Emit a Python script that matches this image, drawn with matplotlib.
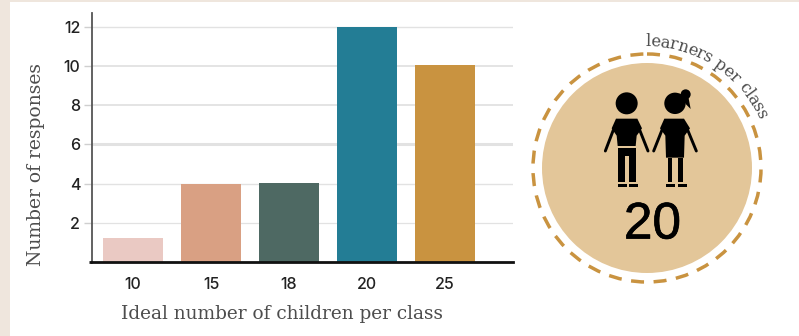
import numpy as np
import matplotlib
matplotlib.use("Agg")
import matplotlib.pyplot as plt
import matplotlib.patheffects as pe
from matplotlib.patches import Circle, Polygon, Rectangle
from matplotlib.textpath import TextPath
from matplotlib.font_manager import FontProperties

categories = ["10", "15", "18", "20", "25"]
responses = [1.2, 4, 4.05, 12, 10.05]
bar_colors = ["#eac9c3", "#d9a083", "#4e6963", "#237d95", "#c99340"]
y_ticks = [2, 4, 6, 8, 10, 12]
grid_widths = [0.9, 1.0, 2.2, 1.3, 1.3, 1.0]
ring_label = "learners per class"
ring_value = "20"

W, H = 799, 336
BEIGE = "#efe6dd"
SLAB = "DejaVu Serif"
TICKFONT = "Inter"
INK = "#4d4d4d"

fig = plt.figure(figsize=(W / 100, H / 100), dpi=100, facecolor="white")

# beige strips along left and top
fig.add_artist(Rectangle((0, 0), 10 / W, 1, transform=fig.transFigure, color=BEIGE, lw=0))
fig.add_artist(Rectangle((0, 1 - 2 / H), 1, 2 / H, transform=fig.transFigure, color=BEIGE, lw=0))

# bar chart
ax = fig.add_axes([92 / W, (H - 262) / H, (513 - 92) / W, (262 - 13) / H])
ax.patch.set_alpha(0)
x = np.arange(len(categories))
for yv, lw in zip(y_ticks, grid_widths):
    ax.axhline(yv, color="#e2e2e2", lw=lw, zorder=1)
ax.bar(x, responses, width=0.77, color=bar_colors, zorder=2)
ax.set_xlim(-0.526, 4.87)
ax.set_ylim(0, 12.7)
ax.set_xticks(x, categories)
ax.set_yticks(y_ticks)
ax.tick_params(axis="x", length=0, pad=11, labelsize=11.5, labelcolor="#222222")
ax.tick_params(axis="y", length=5.5, width=1, color="#cfcfcf", pad=3, labelsize=11.5, labelcolor="#222222")
for lab in ax.get_xticklabels() + ax.get_yticklabels():
    lab.set_fontfamily(TICKFONT)
    lab.set_fontweight("medium")
for s in ["top", "right"]:
    ax.spines[s].set_visible(False)
ax.spines["left"].set_color("#555555")
ax.spines["left"].set_linewidth(1.3)
ax.spines["bottom"].set_color("#111111")
ax.spines["bottom"].set_linewidth(2)
ax.spines["bottom"].set_zorder(5)

# overlay in pixel coordinates for labels and the ring
ov = fig.add_axes([0, 0, 1, 1])
ov.set_xlim(0, W)
ov.set_ylim(H, 0)
ov.axis("off")
ov.patch.set_alpha(0)

ov.plot([89, 92], [262, 262], color="#111111", lw=2, solid_capstyle="butt")
ov.text(282, 314, "Ideal number of children per class", family=SLAB, fontsize=13.3,
        color=INK, ha="center", va="center")
ov.text(36, 164, "Number of responses", family=SLAB, fontsize=13.5, color=INK,
        rotation=90, ha="center", va="center")

# ring
cx, cy = 647, 168
ov.add_patch(Circle((cx, cy), 105, facecolor="#e3c699", edgecolor="none"))
ov.add_patch(Circle((cx, cy), 114, fill=False, edgecolor="#c99340", lw=2.5,
                    linestyle=(0, (3.75, 2.75))))
t = ov.text(cx + 5.5, 225, ring_value, family="Liberation Sans", fontsize=37, color="black",
            ha="center", va="center")
t.set_path_effects([pe.withStroke(linewidth=0.5, foreground="black")])

# curved label, one glyph at a time
fp = FontProperties(family=SLAB, size=11.8)
adv = [TextPath((0, 0), c if c != " " else "n", prop=fp).get_extents().width * 100 / 72 + 1.0
       for c in ring_label]
adv = [a * 0.62 if c == " " else a for a, c in zip(adv, ring_label)]
R = 126
theta = np.deg2rad(90.5)
for c, a in zip(ring_label, adv):
    mid = theta - a / 2 / R
    ov.text(cx + R * np.cos(mid), cy - R * np.sin(mid), c, family=SLAB, fontsize=11.8, color=INK,
            rotation=np.rad2deg(mid) - 90, rotation_mode="anchor", ha="center", va="center")
    theta -= a / R


def z(px, py):
    return 600 + px / 3, 85 + py / 3


def poly(points):
    ov.add_patch(Polygon([z(*p) for p in points], closed=True, facecolor="black", edgecolor="none"))


def limb(p, q, w=2.1):
    a, b = z(*p), z(*q)
    ov.plot([a[0], b[0]], [a[1], b[1]], color="black", lw=w, solid_capstyle="round")


# boy
ov.add_patch(Circle(z(80, 55), 11, color="black", lw=0))
poly([(48, 101), (112, 101), (126, 130), (110, 152), (107, 183), (53, 183), (50, 152), (35, 130)])
poly([(53, 190), (107, 190), (107, 292), (87, 292), (87, 212), (75, 212), (75, 292), (53, 292)])
poly([(53, 296), (80, 296), (80, 306), (53, 306)])
poly([(88, 296), (115, 296), (115, 306), (88, 306)])
limb((40, 135), (16, 198))
limb((119, 135), (144, 198))

# girl
ov.add_patch(Circle(z(225, 55), 10.7, color="black", lw=0))
ov.add_patch(Circle(z(257, 28), 5, color="black", lw=0))
poly([(235, 25), (265, 35), (272, 72), (258, 58), (250, 45)])
poly([(193, 101), (252, 101), (270, 130), (254, 152), (252, 218), (198, 218), (196, 152), (180, 130)])
poly([(203, 218), (217, 218), (217, 292), (203, 292)])
poly([(235, 218), (249, 218), (249, 292), (235, 292)])
poly([(198, 296), (225, 296), (225, 306), (198, 306)])
poly([(235, 296), (262, 296), (262, 306), (235, 306)])
limb((186, 135), (161, 198))
limb((263, 135), (289, 198))

fig.savefig("out.png", dpi=100)
